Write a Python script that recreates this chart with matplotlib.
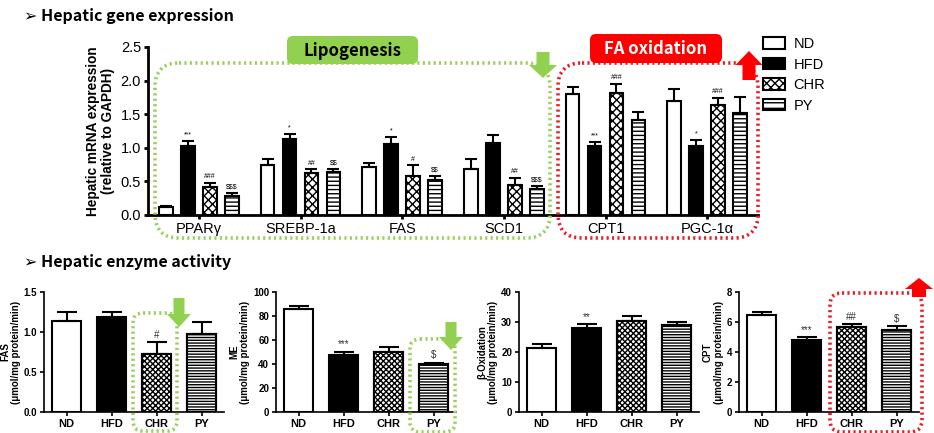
import matplotlib
matplotlib.use('Agg')
import matplotlib.pyplot as plt
import numpy as np
from matplotlib.patches import FancyBboxPatch, FancyArrow, Patch

plt.rcParams['font.family'] = ['Liberation Sans', 'DejaVu Sans']
plt.rcParams['hatch.linewidth'] = 1.0
plt.rcParams['text.parse_math'] = False

# ---------------- data ----------------
groups = ['ND', 'HFD', 'CHR', 'PY']
genes = ['PPARγ', 'SREBP-1a', 'FAS', 'SCD1', 'CPT1', 'PGC-1α']
gene_nd = [0.12, 0.75, 0.72, 0.69, 1.80, 1.69]
gene_nd_err = [0.02, 0.09, 0.06, 0.14, 0.10, 0.18]
gene_hfd = [1.03, 1.13, 1.05, 1.07, 1.03, 1.03]
gene_hfd_err = [0.07, 0.07, 0.11, 0.12, 0.05, 0.09]
gene_chr = [0.41, 0.63, 0.585, 0.44, 1.81, 1.64]
gene_chr_err = [0.07, 0.05, 0.155, 0.11, 0.14, 0.10]
gene_py = [0.29, 0.635, 0.525, 0.38, 1.42, 1.52]
gene_py_err = [0.03, 0.045, 0.05, 0.05, 0.11, 0.23]
gene_sig_hfd = ['***', '*', '*', '', '***', '*']
gene_sig_chr = ['###', '##', '#', '##', '###', '###']
gene_sig_py = ['$$$', '$$', '$$', '$$$', '', '']

fas_vals = [1.14, 1.19, 0.73, 0.98]
fas_err = [0.11, 0.06, 0.14, 0.145]
fas_sig = ['', '', '#', '']
me_vals = [85.5, 47.2, 50.0, 40.0]
me_err = [2.5, 3.0, 4.0, 1.0]
me_sig = ['', '***', '', '$']
box_vals = [21.2, 28.0, 30.5, 29.0]
box_err = [1.4, 1.2, 1.4, 1.0]
box_sig = ['', '**', '', '']
cpt_vals = [6.46, 4.81, 5.66, 5.50]
cpt_err = [0.20, 0.16, 0.18, 0.23]
cpt_sig = ['', '***', '##', '$']

W, H = 934, 433
fig = plt.figure(figsize=(W / 100, H / 100), dpi=100)


def px_axes(l, r, t, b, **kw):
    return fig.add_axes([l / W, 1 - b / H, (r - l) / W, (b - t) / H], **kw)


fills = ['white', 'black', 'white', 'white']

# ---------------- top chart ----------------
ax = px_axes(148, 758, 47, 215)
x = np.arange(len(genes))
offs = [-0.324, -0.108, 0.108, 0.324]
top_hatch = [None, None, 'xxxx', '----']
series = [(gene_nd, gene_nd_err, None), (gene_hfd, gene_hfd_err, gene_sig_hfd),
          (gene_chr, gene_chr_err, gene_sig_chr), (gene_py, gene_py_err, gene_sig_py)]
for i, (v, e, s) in enumerate(series):
    xi = x + offs[i]
    ax.bar(xi, v, width=0.135, color=fills[i], edgecolor='black', linewidth=1.5,
           hatch=top_hatch[i], zorder=2)
    ax.errorbar(xi, v, yerr=[np.zeros(len(v)), e], fmt='none', ecolor='black',
                elinewidth=1.5, capsize=4, capthick=1.5, zorder=3)
    if s is not None:
        for xx, vv, ee, ss in zip(xi, v, e, s):
            if ss:
                ax.text(xx, vv + ee + 0.04, ss, ha='center', va='bottom', fontsize=5)
ax.set_xlim(-0.5, 5.5)
ax.set_ylim(0, 2.5)
ax.set_yticks([0, 0.5, 1.0, 1.5, 2.0, 2.5])
ax.set_yticklabels(['0.0', '0.5', '1.0', '1.5', '2.0', '2.5'], fontsize=10.5)
ax.set_xticks(x)
ax.set_xticklabels(genes, fontsize=10.5)
for sp in ['top', 'right']:
    ax.spines[sp].set_visible(False)
for sp in ['left', 'bottom']:
    ax.spines[sp].set_linewidth(2)
ax.tick_params(axis='both', width=2, length=3, pad=2)
ax.set_ylabel('Hepatic mRNA expression\n(relative to GAPDH)', fontsize=9.8,
              fontweight='bold', labelpad=4, linespacing=1.1)
ax.patch.set_alpha(0)

legend_hatch = [None, None, 'xxxx', '---']
handles = [Patch(facecolor=fills[i], edgecolor='black', linewidth=1.5,
                 hatch=legend_hatch[i]) for i in range(4)]
fig.legend(handles, groups, loc='upper left', bbox_to_anchor=(763 / W, 1 - 37 / H),
           frameon=False, fontsize=10.5, handlelength=1.5, handleheight=0.85,
           labelspacing=0.45, handletextpad=0.6, borderaxespad=0, borderpad=0)

# ---------------- bottom charts ----------------
bot_hatch = [None, None, 'xxxxxx', '------']
panels = [
    (44, fas_vals, fas_err, fas_sig, 'FAS', [0, 0.5, 1.0, 1.5], ['0.0', '0.5', '1.0', '1.5']),
    (276, me_vals, me_err, me_sig, 'ME', [0, 20, 40, 60, 80, 100], None),
    (519, box_vals, box_err, box_sig, 'β-Oxidation', [0, 10, 20, 30, 40], None),
    (739, cpt_vals, cpt_err, cpt_sig, 'CPT', [0, 2, 4, 6, 8], None),
]
for left, vals, errs, sig, name, yt, ytl in panels:
    a = px_axes(left, left + 180, 292, 412)
    xb = np.arange(4)
    a.bar(xb, vals, width=0.64, color=fills, edgecolor='black', linewidth=1.5,
          hatch=None, zorder=2)
    for i in range(4):
        if bot_hatch[i]:
            a.bar(xb[i], vals[i], width=0.64, color='white', edgecolor='black',
                  linewidth=1.5, hatch=bot_hatch[i], zorder=2)
    a.errorbar(xb, vals, yerr=[np.zeros(4), errs], fmt='none', ecolor='black',
               elinewidth=1.5, capsize=7, capthick=1.5, zorder=3)
    rng = yt[-1]
    for xx, vv, ee, ss in zip(xb, vals, errs, sig):
        if ss:
            a.text(xx, vv + ee + rng * 0.02, ss, ha='center', va='bottom', fontsize=7,
                   color='#333333')
    a.set_xlim(-0.5, 3.5)
    a.set_ylim(0, yt[-1])
    a.set_yticks(yt)
    if ytl:
        a.set_yticklabels(ytl)
    a.set_xticks(xb)
    a.set_xticklabels(groups, fontsize=8, fontweight='bold')
    for lab in a.get_yticklabels():
        lab.set_fontsize(7)
        lab.set_fontweight('bold')
    for sp in ['top', 'right']:
        a.spines[sp].set_visible(False)
    for sp in ['left', 'bottom']:
        a.spines[sp].set_linewidth(1.2)
    a.tick_params(axis='both', width=1.2, length=3, pad=2)
    a.set_ylabel(name + '\n(μmol/mg protein/min)', fontsize=7, fontweight='bold',
                 labelpad=2, linespacing=1.1)
    a.patch.set_alpha(0)

# ---------------- overlay: titles, boxes, arrows ----------------
ov = fig.add_axes([0, 0, 1, 1], zorder=10)
ov.set_xlim(0, W)
ov.set_ylim(H, 0)
ov.axis('off')
ov.patch.set_alpha(0)

kr = ['Noto Sans CJK KR', 'DejaVu Sans']
ov.text(24, 16, '➢ Hepatic gene expression', fontsize=11.5, fontweight='bold',
        family=kr, va='center', ha='left')
ov.text(24, 262, '➢ Hepatic enzyme activity', fontsize=11.5, fontweight='bold',
        family=kr, va='center', ha='left')

green_line = '#9BCF5F'
green_fill = '#92D050'
red_line = '#E8202A'
red_fill = '#FF0000'


def dotted_box(x0, y0, w, h, r, color):
    ov.add_patch(FancyBboxPatch((x0, y0), w, h,
                                boxstyle='round,pad=0,rounding_size=%g' % r,
                                fill=False, edgecolor=color, linewidth=2.6,
                                linestyle=(0, (0.6, 0.9)), zorder=1))


def arrow(xc, y_base, y_tip, width, head_w, head_l, color):
    ov.add_patch(FancyArrow(xc, y_base, 0, y_tip - y_base, width=width,
                            head_width=head_w, head_length=head_l,
                            length_includes_head=True, color=color, lw=0, zorder=3))


dotted_box(155, 63, 395, 175, 24, green_line)
dotted_box(558, 63, 200, 175, 24, red_line)
ov.add_patch(FancyBboxPatch((287, 36), 131, 28, boxstyle='round,pad=0,rounding_size=6',
                            facecolor=green_fill, edgecolor='none', zorder=2))
ov.text(352.5, 50.5, 'Lipogenesis', fontsize=12, fontweight='bold', family=kr,
        ha='center', va='center', color='black', zorder=4)
ov.add_patch(FancyBboxPatch((590, 34), 132, 29, boxstyle='round,pad=0,rounding_size=6',
                            facecolor=red_fill, edgecolor='none', zorder=2))
ov.text(656, 49, 'FA oxidation', fontsize=12, fontweight='bold', family=kr,
        ha='center', va='center', color='white', zorder=4)
arrow(543, 52, 78, 13, 28, 13, green_fill)
arrow(749, 80, 51, 13, 27, 14, red_fill)

dotted_box(133, 313, 44, 118, 10, green_line)
arrow(179, 298, 327, 11, 24, 13, green_fill)
dotted_box(410, 339, 45, 93, 10, green_line)
arrow(451, 322, 350, 11, 24, 13, green_fill)
dotted_box(830, 293, 92, 139, 12, red_line)
arrow(919, 297, 278, 14, 28, 11, red_fill)

fig.savefig('out.png', dpi=100)
